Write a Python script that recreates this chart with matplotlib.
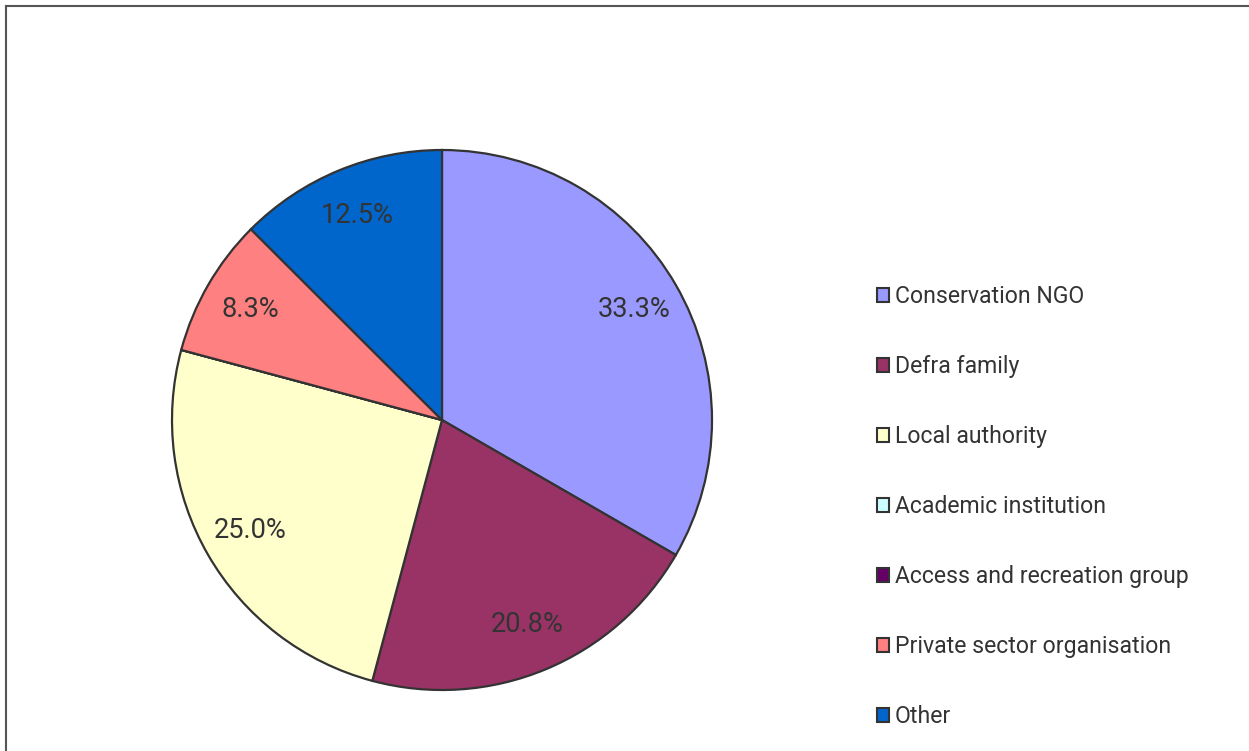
import numpy as np
import matplotlib.pyplot as plt
from matplotlib.lines import Line2D
from matplotlib.patches import Patch

plt.rcParams['font.family'] = ['Roboto', 'DejaVu Sans']

# Share of respondents by organisation type (%)
categories = ['Conservation NGO', 'Defra family', 'Local authority',
              'Academic institution', 'Access and recreation group',
              'Private sector organisation', 'Other']
shares = [33.3, 20.8, 25.0, 0.0, 0.0, 8.3, 12.5]
colors = ['#9999FF', '#993366', '#FFFFCC', '#CCFFFF', '#660066', '#FF8080', '#0066CC']

W, H = 1249, 751
fig = plt.figure(figsize=(W / 100, H / 100), dpi=100)

# pie area in pixels: centre (442, 420), radius 270
cx, cy, r = 442, 420, 270
pad = 1.02
ax = fig.add_axes([(cx - r * pad) / W, (H - cy - r * pad) / H,
                   2 * r * pad / W, 2 * r * pad / H])

wedges = ax.pie(shares, colors=colors, startangle=90, counterclock=False,
                wedgeprops=dict(edgecolor='#333333', linewidth=1.6))[0]

# percentage labels, skipping empty categories
total = sum(shares)
for w, v in zip(wedges, shares):
    if v == 0:
        continue
    ang = np.deg2rad((w.theta1 + w.theta2) / 2)
    ax.text(0.82 * np.cos(ang), 0.82 * np.sin(ang), f'{v / total * 100:.1f}%',
            ha='center', va='center', fontsize=19.6, color='#333333')
ax.set_xlim(-pad, pad)
ax.set_ylim(-pad, pad)
ax.axis('off')

# legend
handles = [Patch(facecolor=c, edgecolor='#333333', linewidth=1.5) for c in colors]
leg = fig.legend(handles, categories, loc='upper left',
                 bbox_to_anchor=(877 / W, 1 - 285 / H), frameon=False,
                 fontsize=16.6, handlelength=0.52, handleheight=0.52,
                 handletextpad=0.26, labelspacing=2.04, borderpad=0,
                 borderaxespad=0)
for t in leg.get_texts():
    t.set_color('#333333')

# outer border (left and top)
fig.add_artist(Line2D([5.5 / W, 5.5 / W], [0, 1 - 5.5 / H], color='#555555',
                      linewidth=1.5, transform=fig.transFigure))
fig.add_artist(Line2D([5.5 / W, 1], [1 - 5.5 / H, 1 - 5.5 / H], color='#555555',
                      linewidth=1.5, transform=fig.transFigure))

fig.savefig('out.png', dpi=100)
